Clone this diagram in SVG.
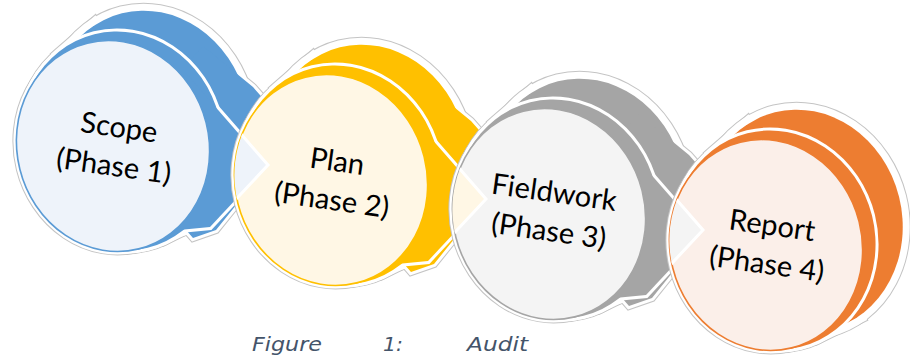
<svg xmlns="http://www.w3.org/2000/svg" xmlns:xlink="http://www.w3.org/1999/xlink" width="910" height="356" viewBox="0 0 910 356">
<style>
.ol use{fill:none;stroke:#c4c4c4}
.mg use{fill:none;stroke:#ffffff}
.w16{stroke-width:16}
.w14{stroke-width:14}
.w8{stroke-width:8}
.w6{stroke-width:6}
.sep use{stroke:#ffffff;stroke-width:6}
.face{stroke-width:1.6}
.tip{stroke:#ffffff;stroke-width:3;stroke-linejoin:miter}
.blue .dk{fill:#5B9BD5}.blue .face{fill:#EEF3FA;stroke:#5B9BD5}
.yel .dk{fill:#FFC000}.yel .face{fill:#FFF7E5;stroke:#FFC000}
.gry .dk{fill:#A5A5A5}.gry .face{fill:#F4F4F4;stroke:#A5A5A5}
.org .dk{fill:#ED7D31}.org .face{fill:#FBEFE9;stroke:#ED7D31}
.lbl{font-family:Lato,"Open Sans","Liberation Sans",sans-serif;font-size:29px;fill:#000;text-anchor:middle}
.cap{font-family:"DejaVu Sans","Liberation Sans",sans-serif;font-style:italic;font-size:20px;fill:#44546A}
</style>
<defs>
<ellipse id="F" rx="96" ry="106" transform="rotate(-14)"/>
<ellipse id="B" rx="100" ry="112" transform="translate(36,-24) rotate(-14)"/>
<ellipse id="M" rx="101" ry="110" transform="translate(8,-5) rotate(-14)"/>
<polygon id="H" points="-53.2,-90.6 -19.3,-120 91.3,72 53.2,90.6"/>
<polygon id="BC" points="90,-100 140,-59 185,-8 128,53 103,84 80,92 0,0"/>
<polygon id="MC" points="72,-74 154,20 97,81 66,84 0,0"/>
<polygon id="TIP" points="-63,-15 -131,-93 -120,46"/>
<clipPath id="faceclip"><ellipse rx="96" ry="106" transform="rotate(-14)"/></clipPath>
</defs>
<rect width="910" height="356" fill="#ffffff"/>

<g id="scope" class="blue" transform="translate(113,146)">
  <g class="ol"><use href="#B" class="w16"/><use href="#H" class="w16"/><use href="#BC" class="w8"/><use href="#F" class="w8"/><use href="#M" class="w8"/></g>
  <g class="mg"><use href="#B" class="w14"/><use href="#H" class="w14"/><use href="#BC" class="w6"/><use href="#F" class="w6"/><use href="#M" class="w6"/></g>
  <g class="dk"><use href="#B"/><use href="#H"/><use href="#BC"/></g>
  <g class="sep"><use href="#M"/><use href="#MC"/></g>
  <g class="dk"><use href="#M"/><use href="#MC"/></g>
  <use href="#F" class="face"/>
  <g transform="translate(2,11) rotate(8)"><text class="lbl" y="-20">Scope</text><text class="lbl" y="19">(Phase 1)</text></g>
</g>

<g id="plan" class="yel" transform="translate(331,180)">
  <g class="ol"><use href="#B" class="w16"/><use href="#H" class="w16"/><use href="#BC" class="w8"/><use href="#F" class="w8"/><use href="#M" class="w8"/></g>
  <g class="mg"><use href="#B" class="w14"/><use href="#H" class="w14"/><use href="#BC" class="w6"/><use href="#F" class="w6"/><use href="#M" class="w6"/></g>
  <g class="dk"><use href="#B"/><use href="#H"/><use href="#BC"/></g>
  <g class="sep"><use href="#M"/><use href="#MC"/></g>
  <g class="dk"><use href="#M"/><use href="#MC"/></g>
  <use href="#F" class="face"/>
  <use href="#TIP" class="tip" fill="#EEF3FA" clip-path="url(#faceclip)"/>
  <g transform="translate(2,11) rotate(8)"><text class="lbl" y="-20">Plan</text><text class="lbl" y="19">(Phase 2)</text></g>
</g>

<g id="fieldwork" class="gry" transform="translate(549,214)">
  <g class="ol"><use href="#B" class="w16"/><use href="#H" class="w16"/><use href="#BC" class="w8"/><use href="#F" class="w8"/><use href="#M" class="w8"/></g>
  <g class="mg"><use href="#B" class="w14"/><use href="#H" class="w14"/><use href="#BC" class="w6"/><use href="#F" class="w6"/><use href="#M" class="w6"/></g>
  <g class="dk"><use href="#B"/><use href="#H"/><use href="#BC"/></g>
  <g class="sep"><use href="#M"/><use href="#MC"/></g>
  <g class="dk"><use href="#M"/><use href="#MC"/></g>
  <use href="#F" class="face"/>
  <use href="#TIP" class="tip" fill="#FFF7E5" clip-path="url(#faceclip)"/>
  <g transform="translate(1,8) rotate(8)"><text class="lbl" y="-20">Fieldwork</text><text class="lbl" y="19">(Phase 3)</text></g>
</g>

<g id="report" class="org" transform="translate(766,245)">
  <g class="ol"><use href="#B" class="w16"/><use href="#H" class="w16"/><use href="#F" class="w8"/><use href="#M" class="w8"/></g>
  <g class="mg"><use href="#B" class="w14"/><use href="#H" class="w14"/><use href="#F" class="w6"/><use href="#M" class="w6"/></g>
  <g class="dk"><use href="#B"/><use href="#H"/></g>
  <g class="sep"><use href="#M"/></g>
  <g class="dk"><use href="#M"/></g>
  <use href="#F" class="face"/>
  <use href="#TIP" class="tip" fill="#F4F4F4" clip-path="url(#faceclip)"/>
  <g transform="translate(2,10) rotate(8)"><text class="lbl" y="-20">Report</text><text class="lbl" y="19">(Phase 4)</text></g>
</g>

<g id="caption">
  <text class="cap" x="252" y="351" textLength="70" lengthAdjust="spacingAndGlyphs">Figure</text>
  <text class="cap" x="383" y="351" textLength="20" lengthAdjust="spacingAndGlyphs">1:</text>
  <text class="cap" x="467" y="351" textLength="61" lengthAdjust="spacingAndGlyphs">Audit</text>
</g>
</svg>
